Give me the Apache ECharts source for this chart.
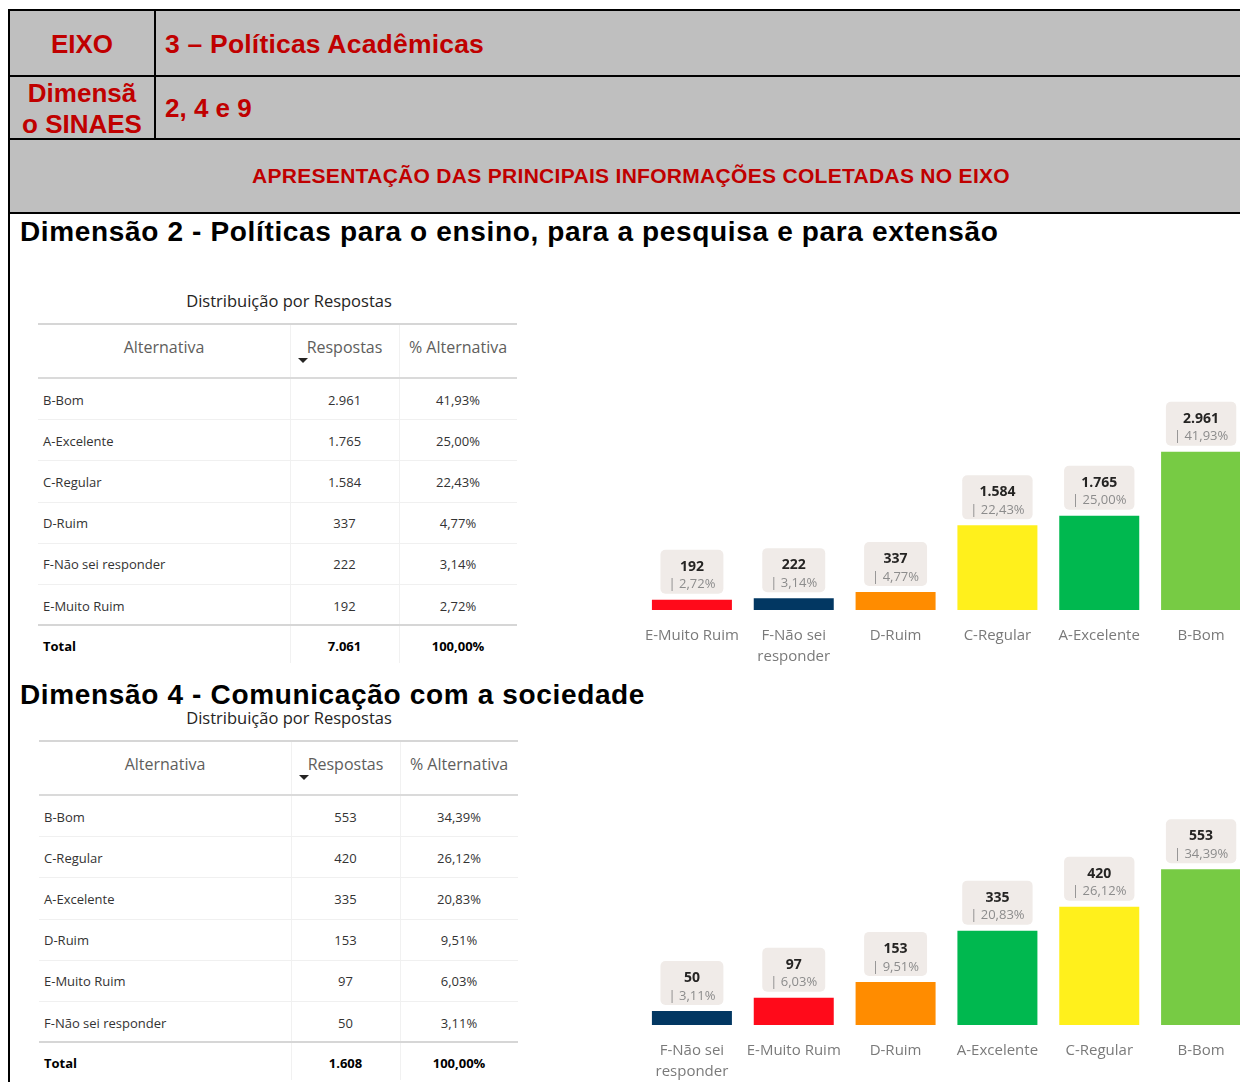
<!DOCTYPE html>
<html>
<head>
<meta charset="utf-8">
<script src="https://cdn.jsdelivr.net/npm/echarts@6/dist/echarts.min.js"></script>
<style>
  html, body { margin: 0; padding: 0; background: #fff; }
  #page { position: relative; width: 1240px; height: 1082px; overflow: hidden; }
  .abs { position: absolute; }
  .red { font-family: "Liberation Sans", Arial, sans-serif; font-weight: bold; color: #C00000; white-space: nowrap; }
  .h2 { font-family: "Liberation Sans", Arial, sans-serif; font-weight: bold; color: #000; font-size: 28px; letter-spacing: 0.65px; white-space: nowrap; }
  .pbi { font-family: "Open Sans", "Noto Sans", sans-serif; white-space: nowrap; }
</style>
</head>
<body>
<div id="page">
  <!-- cabecalho cinza -->
  <div class="abs" style="left:9px;top:10px;width:1240px;height:203px;background:#BFBFBF;"></div>
  <div class="abs" style="left:8px;top:9px;width:1240px;height:2px;background:#000;"></div>
  <div class="abs" style="left:8px;top:75px;width:1240px;height:2px;background:#000;"></div>
  <div class="abs" style="left:8px;top:138px;width:1240px;height:2px;background:#000;"></div>
  <div class="abs" style="left:8px;top:212px;width:1240px;height:2px;background:#000;"></div>
  <div class="abs" style="left:8px;top:9px;width:2px;height:1080px;background:#000;"></div>
  <div class="abs" style="left:154px;top:9px;width:2px;height:130px;background:#000;"></div>

  <div class="abs red" style="left:10px;top:28px;width:144px;text-align:center;font-size:26px;line-height:32px;">EIXO</div>
  <div class="abs red" style="left:165px;top:28px;font-size:26.5px;letter-spacing:0.2px;line-height:32px;">3 – Políticas Acadêmicas</div>
  <div class="abs red" style="left:10px;top:78px;width:144px;text-align:center;font-size:26px;line-height:31px;">Dimensã<br>o SINAES</div>
  <div class="abs red" style="left:165px;top:92px;font-size:26px;line-height:32px;">2, 4 e 9</div>
  <div class="abs red" style="left:9px;top:163px;width:1244px;text-align:center;font-size:21px;letter-spacing:0.3px;line-height:26px;">APRESENTAÇÃO DAS PRINCIPAIS INFORMAÇÕES COLETADAS NO EIXO</div>

  <div class="abs h2" style="left:20px;top:216px;line-height:32px;">Dimensão 2 - Políticas para o ensino, para a pesquisa e para extensão</div>
  <div class="abs h2" style="left:20px;top:679px;line-height:32px;">Dimensão 4 - Comunicação com a sociedade</div>

  <div class="abs pbi" style="left:140px;top:290px;width:298px;text-align:center;font-size:16.5px;line-height:22px;color:#252423;">Distribuição por Respostas</div>
  <div class="abs pbi" style="left:140px;top:707px;width:298px;text-align:center;font-size:16.5px;line-height:22px;color:#252423;">Distribuição por Respostas</div>

  <div id="tab1" class="abs pbi" style="left:38px;top:323px;width:479px;height:342px;"></div>
  <div id="tab2" class="abs pbi" style="left:39px;top:740px;width:478px;height:342px;"></div>

  <div id="chart1" class="abs" style="left:630px;top:380px;width:640px;height:300px;"></div>
  <div id="chart2" class="abs" style="left:630px;top:800px;width:640px;height:282px;"></div>
</div>

<script>
// Dimensão 2 (ordem do gráfico, crescente)
var d2Cats = ['E-Muito Ruim', 'F-Não sei responder', 'D-Ruim', 'C-Regular', 'A-Excelente', 'B-Bom'];
var d2Vals = [192, 222, 337, 1584, 1765, 2961];
var d2Pct = ['2,72%', '3,14%', '4,77%', '22,43%', '25,00%', '41,93%'];
var d2Total = 7061;
var d2TotalPct = '100,00%';

// Dimensão 4 (ordem do gráfico, crescente)
var d4Cats = ['F-Não sei responder', 'E-Muito Ruim', 'D-Ruim', 'A-Excelente', 'C-Regular', 'B-Bom'];
var d4Vals = [50, 97, 153, 335, 420, 553];
var d4Pct = ['3,11%', '6,03%', '9,51%', '20,83%', '26,12%', '34,39%'];
var d4Total = 1608;
var d4TotalPct = '100,00%';

var tableHeaders = ['Alternativa', 'Respostas', '% Alternativa'];

var barColors = {
    'E-Muito Ruim': '#FF0A1A',
    'F-Não sei responder': '#023762',
    'D-Ruim': '#FF8C00',
    'C-Regular': '#FFF01C',
    'A-Excelente': '#00B84F',
    'B-Bom': '#77CB44'
};

function fmt(n) {
    return String(n).replace(/\B(?=(\d{3})+(?!\d))/g, '.');
}

function el(host, css, html) {
    var d = document.createElement('div');
    d.style.cssText = 'position:absolute;' + css;
    if (html !== undefined) d.innerHTML = html;
    host.appendChild(d);
    return d;
}

function buildTable(id, cats, vals, pct, total, totalPct) {
    var host = document.getElementById(id);
    var W = 479, c1 = 252, c2 = 361, headH = 55, rowH = 41.2;
    var rows = cats.map(function (c, i) { return [c, fmt(vals[i]), pct[i]]; }).reverse();

    el(host, 'left:0;top:0;width:' + W + 'px;height:2px;background:#D6D6D6;');
    el(host, 'left:' + c1 + 'px;top:2px;width:1px;height:338px;background:#F1F1F1;');
    el(host, 'left:' + c2 + 'px;top:2px;width:1px;height:338px;background:#F1F1F1;');

    var hc = 'top:13px;font-size:16px;line-height:22px;color:#605E5C;text-align:center;';
    el(host, hc + 'left:0;width:' + c1 + 'px;', tableHeaders[0]);
    el(host, hc + 'left:' + c1 + 'px;width:' + (c2 - c1) + 'px;', tableHeaders[1]);
    el(host, hc + 'left:' + c2 + 'px;width:' + (W - c2) + 'px;', tableHeaders[2]);
    el(host, 'left:260px;top:35px;width:0;height:0;border-left:5px solid transparent;border-right:5px solid transparent;border-top:5px solid #252423;');
    el(host, 'left:0;top:' + (headH - 1) + 'px;width:' + W + 'px;height:2px;background:#DADADA;');

    rows.forEach(function (r, i) {
        var cy = headH + 1 + rowH * (i + 0.5);
        var tc = 'top:' + (cy - 10) + 'px;font-size:13px;line-height:20px;color:#333;';
        el(host, tc + 'left:5px;', r[0]);
        el(host, tc + 'left:' + c1 + 'px;width:' + (c2 - c1) + 'px;text-align:center;', r[1]);
        el(host, tc + 'left:' + c2 + 'px;width:' + (W - c2) + 'px;text-align:center;', r[2]);
        if (i < rows.length - 1) {
            el(host, 'left:0;top:' + (headH + rowH * (i + 1)) + 'px;width:' + W + 'px;height:1px;background:#F0F0F0;');
        }
    });

    var tl = headH - 1 + rowH * rows.length;
    el(host, 'left:0;top:' + tl + 'px;width:' + W + 'px;height:2px;background:#D6D6D6;');
    var ty = tl + 22;
    var bc = 'top:' + (ty - 10) + 'px;font-size:13px;line-height:20px;color:#000;font-weight:bold;';
    el(host, bc + 'left:5px;', 'Total');
    el(host, bc + 'left:' + c1 + 'px;width:' + (c2 - c1) + 'px;text-align:center;', fmt(total));
    el(host, bc + 'left:' + c2 + 'px;width:' + (W - c2) + 'px;text-align:center;', totalPct);
}

function buildChart(id, cats, vals, pct, max, top, bottom) {
    var chart = echarts.init(document.getElementById(id));
    chart.setOption({
        animation: false,
        grid: { left: 11, right: 18, top: top, bottom: bottom },
        xAxis: {
            type: 'category',
            data: cats,
            axisLine: { show: false },
            axisTick: { show: false },
            axisLabel: {
                interval: 0,
                margin: 15,
                color: '#7A7A7A',
                fontSize: 15,
                lineHeight: 21,
                fontFamily: 'Open Sans',
                formatter: function (v) { return v.replace(' sei ', ' sei\n'); }
            }
        },
        yAxis: { type: 'value', min: 0, max: max, show: false },
        series: [{
            type: 'bar',
            barWidth: 80,
            data: vals.map(function (v, i) {
                return { value: v, itemStyle: { color: barColors[cats[i]] } };
            }),
            label: {
                show: true,
                position: 'top',
                distance: 6,
                backgroundColor: '#F0EBE8',
                borderRadius: 5,
                padding: [8, 8, 0, 8],
                align: 'center',
                formatter: function (p) {
                    return '{v|' + fmt(p.value) + '}\n{p|| ' + pct[p.dataIndex] + '}';
                },
                rich: {
                    v: { fontSize: 14, fontWeight: 'bold', color: '#252423', lineHeight: 18, fontFamily: 'Open Sans', align: 'center' },
                    p: { fontSize: 13, color: '#8C8C8C', lineHeight: 18, fontFamily: 'Open Sans', align: 'center' }
                }
            }
        }]
    });
}

buildTable('tab1', d2Cats, d2Vals, d2Pct, d2Total, d2TotalPct);
buildTable('tab2', d4Cats, d4Vals, d4Pct, d4Total, d4TotalPct);
buildChart('chart1', d2Cats, d2Vals, d2Pct, 3200, 59, 70);
buildChart('chart2', d4Cats, d4Vals, d4Pct, 600, 56, 55);
</script>
</body>
</html>
